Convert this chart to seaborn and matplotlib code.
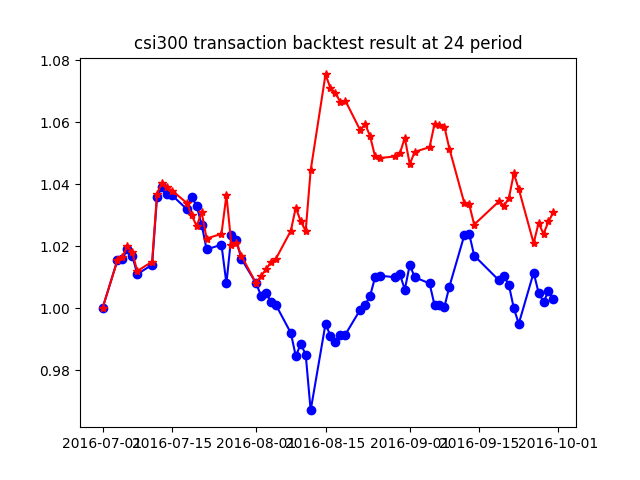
import matplotlib
matplotlib.use("Agg")
import matplotlib.pyplot as plt
import seaborn as sns
import pandas as pd

dates = ["2016-07-01","2016-07-04","2016-07-05","2016-07-06","2016-07-07","2016-07-08",
"2016-07-11","2016-07-12","2016-07-13","2016-07-14","2016-07-15",
"2016-07-18","2016-07-19","2016-07-20","2016-07-21","2016-07-22",
"2016-07-25","2016-07-26","2016-07-27","2016-07-28","2016-07-29",
"2016-08-01","2016-08-02","2016-08-03","2016-08-04","2016-08-05",
"2016-08-08","2016-08-09","2016-08-10","2016-08-11","2016-08-12",
"2016-08-15","2016-08-16","2016-08-17","2016-08-18","2016-08-19",
"2016-08-22","2016-08-23","2016-08-24","2016-08-25","2016-08-26",
"2016-08-29","2016-08-30","2016-08-31","2016-09-01","2016-09-02",
"2016-09-05","2016-09-06","2016-09-07","2016-09-08","2016-09-09",
"2016-09-12","2016-09-13","2016-09-14",
"2016-09-19","2016-09-20","2016-09-21","2016-09-22","2016-09-23",
"2016-09-26","2016-09-27","2016-09-28","2016-09-29","2016-09-30"]

benchmark = [1.000,1.0155,1.016,1.019,1.017,1.011,
1.014,1.036,1.039,1.037,1.0365,
1.032,1.036,1.033,1.027,1.019,
1.0205,1.008,1.0235,1.022,1.016,
1.008,1.004,1.005,1.002,1.001,
0.992,0.9845,0.9885,0.985,0.967,
0.995,0.991,0.989,0.9915,0.9915,
0.9995,1.001,1.004,1.010,1.0105,
1.010,1.011,1.006,1.014,1.010,
1.008,1.001,1.001,1.0005,1.007,
1.0235,1.024,1.017,
1.009,1.0105,1.0075,1.000,0.995,
1.0115,1.005,1.002,1.0055,1.003]

strategy = [1.000,1.0155,1.0165,1.020,1.018,1.012,
1.015,1.037,1.0405,1.039,1.038,
1.034,1.030,1.0265,1.031,1.0225,
1.024,1.0365,1.0205,1.021,1.017,
1.008,1.0105,1.0125,1.015,1.016,
1.025,1.0325,1.028,1.025,1.0445,
1.0755,1.071,1.0695,1.0665,1.067,
1.0575,1.0595,1.0555,1.049,1.0485,
1.049,1.050,1.055,1.0465,1.0505,
1.052,1.0595,1.059,1.0585,1.0515,
1.034,1.0335,1.027,
1.0345,1.033,1.0355,1.0435,1.0385,
1.021,1.0275,1.024,1.028,1.031]

df = pd.DataFrame({"date": pd.to_datetime(dates), "benchmark": benchmark, "strategy": strategy})

fig, ax = plt.subplots(figsize=(6.4, 4.8), dpi=100)
sns.lineplot(data=df, x="date", y="benchmark", color="blue", marker="o",
             markersize=6, markeredgecolor="blue", markeredgewidth=1, ax=ax)
sns.lineplot(data=df, x="date", y="strategy", color="red", marker="*",
             markersize=6, markeredgecolor="red", markeredgewidth=1, ax=ax)
ax.set_xlabel("")
ax.set_ylabel("")
ax.set_title("csi300 transaction backtest result at 24 period")
fig.savefig("out.png")
